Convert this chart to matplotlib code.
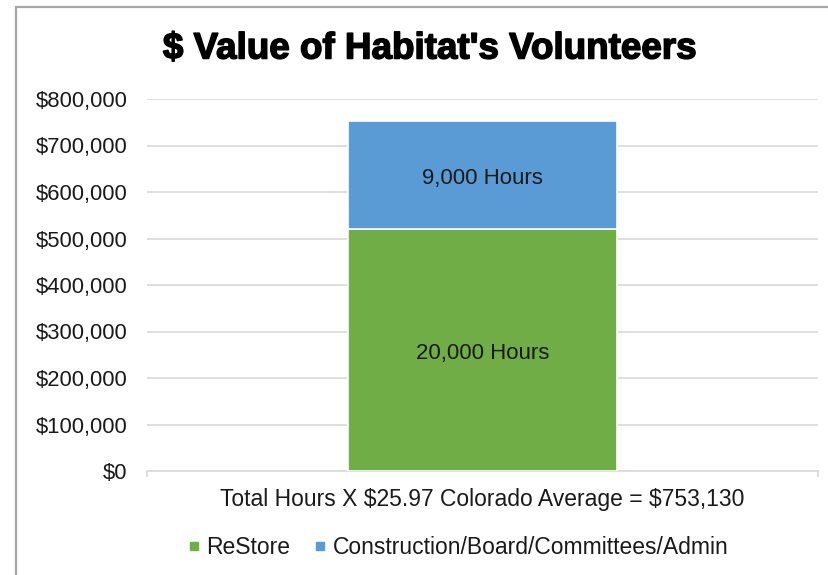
import matplotlib
matplotlib.use("Agg")
import matplotlib.pyplot as plt
import matplotlib.patheffects as pe
from matplotlib.lines import Line2D
from matplotlib.patches import Rectangle
from matplotlib.ticker import FuncFormatter, MultipleLocator

plt.rcParams['font.family'] = ['Liberation Sans', 'DejaVu Sans']

categories = [""]
series_names = ["ReStore", "Construction/Board/Committees/Admin"]
restore_values = [519400]
construction_values = [233730]
bar_labels_restore = ["20,000 Hours"]
bar_labels_construction = ["9,000 Hours"]
colors = ["#70AD47", "#5B9BD5"]
title = "$ Value of Habitat's Volunteers"
xlabel = "Total Hours X $25.97 Colorado Average = $753,130"

W, H = 829, 575
fig = plt.figure(figsize=(W / 100, H / 100), dpi=100)
fig.patch.set_facecolor("white")

# chart border (cropped on right/bottom)
fig.patches.append(Rectangle((16.5 / W, -0.1), 1.2, 1 - 6.5 / H + 0.1,
                             transform=fig.transFigure, fill=False,
                             edgecolor="#A6A6A6", linewidth=1.6))

ax = fig.add_axes([147 / W, 1 - 471 / H, (818 - 147) / W, (471 - 99) / H])
x = range(len(categories))
b1 = ax.bar(x, restore_values, width=0.4, color=colors[0], edgecolor="white",
            linewidth=1.2, label=series_names[0], zorder=3)
b2 = ax.bar(x, construction_values, bottom=restore_values, width=0.4,
            color=colors[1], edgecolor="white", linewidth=1.2,
            label=series_names[1], zorder=3)
for bars, labels in ((b1, bar_labels_restore), (b2, bar_labels_construction)):
    for rect, lab in zip(bars, labels):
        ax.annotate(lab, (rect.get_x() + rect.get_width() / 2, rect.get_y() + rect.get_height() / 2),
                    xytext=(0, -3), textcoords="offset pixels", ha="center", va="center",
                    fontsize=16, color="#1a1a1a", zorder=4)

ax.set_xlim(-0.5, 0.5)
ax.set_ylim(0, 800000)
ax.yaxis.set_major_locator(MultipleLocator(100000))
ax.yaxis.set_major_formatter(FuncFormatter(lambda v, p: f"${v:,.0f}"))
ax.grid(axis="y", color="#D9D9D9", linewidth=1.2, zorder=0)
ax.set_axisbelow(True)
for s in ["top", "right", "left"]:
    ax.spines[s].set_visible(False)
ax.spines["bottom"].set_color("#D9D9D9")
ax.spines["bottom"].set_linewidth(1.2)
ax.set_xticks([-0.5, 0.5])
ax.set_xticklabels(["", ""])
ax.tick_params(axis="x", length=4, color="#D9D9D9", width=1.2)
ax.tick_params(axis="y", length=0, pad=14, labelsize=15.8, labelcolor="#1a1a1a")
ax.set_xlabel(xlabel, fontsize=16.5, color="#1a1a1a", labelpad=5, parse_math=False)

fig.text(429.5 / W, 1 - 49 / H, title, ha="center", va="center", fontsize=26.5,
         fontweight="bold", color="black", parse_math=False,
         path_effects=[pe.withStroke(linewidth=1.1, foreground="black")])

handles = [Line2D([], [], marker="s", linestyle="none", markersize=5.5,
                  markerfacecolor=c, markeredgecolor=c) for c in colors]
fig.legend(handles, series_names, loc="center", bbox_to_anchor=(459 / W, 1 - 548 / H),
           ncol=2, frameon=False, fontsize=16.5, handlelength=0.4, handletextpad=0.35,
           columnspacing=1.1, labelcolor="#1a1a1a")

fig.savefig("out.png", dpi=100, facecolor="white")
